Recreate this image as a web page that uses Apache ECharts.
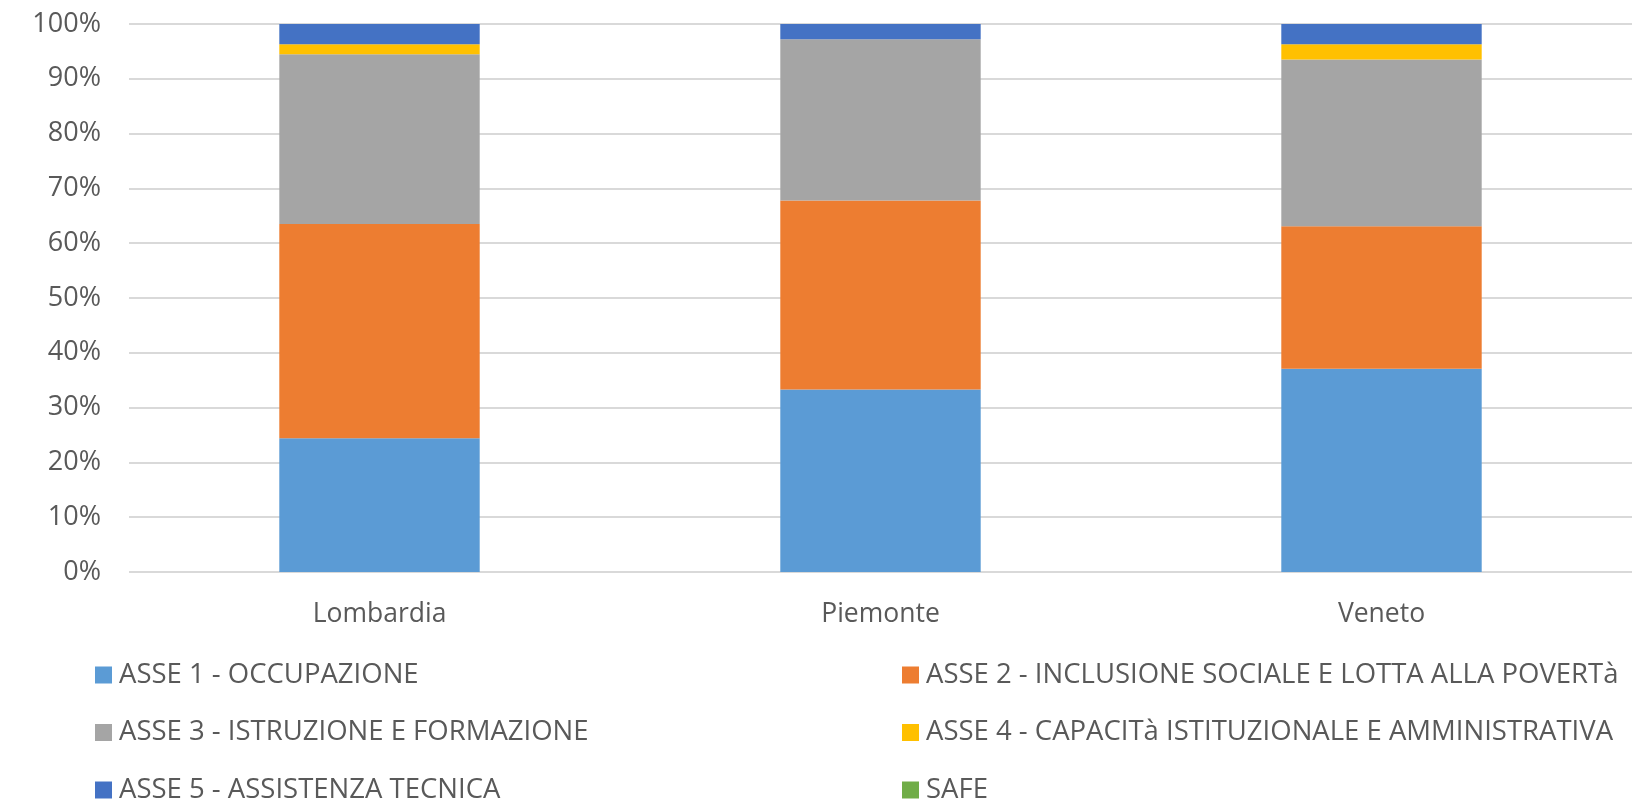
<!DOCTYPE html>
<html>
<head>
<meta charset="utf-8">
<script src="https://cdn.jsdelivr.net/npm/echarts@6/dist/echarts.min.js"></script>
<style>
  html, body { margin: 0; padding: 0; background: #ffffff; }
  #chart { width: 1652px; height: 807px; }
</style>
</head>
<body>
<div id="chart"></div>
<script>
// Categories (regions)
const categories = ['Lombardia', 'Piemonte', 'Veneto'];

// Series names
const seriesNames = [
  'ASSE 1 - OCCUPAZIONE',
  'ASSE 2 - INCLUSIONE SOCIALE E LOTTA ALLA POVERTà',
  'ASSE 3 - ISTRUZIONE E FORMAZIONE',
  'ASSE 4 - CAPACITà ISTITUZIONALE E AMMINISTRATIVA',
  'ASSE 5 - ASSISTENZA TECNICA',
  'SAFE'
];

// Share (%) of each axis per region
const asse1 = [24.4, 33.3, 37.1];
const asse2 = [39.1, 34.5, 26.0];
const asse3 = [31.0, 29.4, 30.4];
const asse4 = [1.8, 0.0, 2.8];
const asse5 = [3.7, 2.8, 3.7];
const safe  = [0, 0, 0];

const seriesValues = [asse1, asse2, asse3, asse4, asse5, safe];
const seriesColors = ['#5B9BD5', '#ED7D31', '#A5A5A5', '#FFC000', '#4472C4', '#70AD47'];

const font = "'Open Sans', 'Noto Sans', sans-serif";
const textColor = '#595959';

const chart = echarts.init(document.getElementById('chart'), null, { renderer: 'canvas' });

const legendCommon = {
  orient: 'vertical',
  top: 661,
  padding: 0,
  itemWidth: 17,
  itemHeight: 17,
  itemGap: 29.5,
  icon: 'rect',
  selectedMode: false,
  textStyle: { fontFamily: font, fontSize: 27.5, color: textColor, lineHeight: 26, padding: [0, 0, 0, 2] }
};

chart.setOption({
  animation: false,
  backgroundColor: '#ffffff',
  grid: { left: 129, right: 20, top: 24, bottom: 235, containLabel: false },
  legend: [
    Object.assign({}, legendCommon, { left: 95, data: [seriesNames[0], seriesNames[2], seriesNames[4]] }),
    Object.assign({}, legendCommon, { left: 902, data: [seriesNames[1], seriesNames[3], seriesNames[5]] })
  ],
  xAxis: {
    type: 'category',
    data: categories,
    axisLine: { show: false },
    axisTick: { show: false },
    axisLabel: { fontFamily: font, fontSize: 26.5, color: textColor, margin: 29 }
  },
  yAxis: {
    type: 'value',
    min: 0,
    max: 100,
    interval: 10,
    axisLine: { show: false },
    axisTick: { show: false },
    axisLabel: { fontFamily: font, fontSize: 27, color: textColor, margin: 28, formatter: '{value}%' },
    splitLine: { lineStyle: { color: '#d9d9d9', width: 2 } }
  },
  series: seriesNames.map((name, i) => ({
    name: name,
    type: 'bar',
    stack: 'total',
    barCategoryGap: '60%',
    itemStyle: { color: seriesColors[i] },
    data: seriesValues[i]
  }))
});
</script>
</body>
</html>
